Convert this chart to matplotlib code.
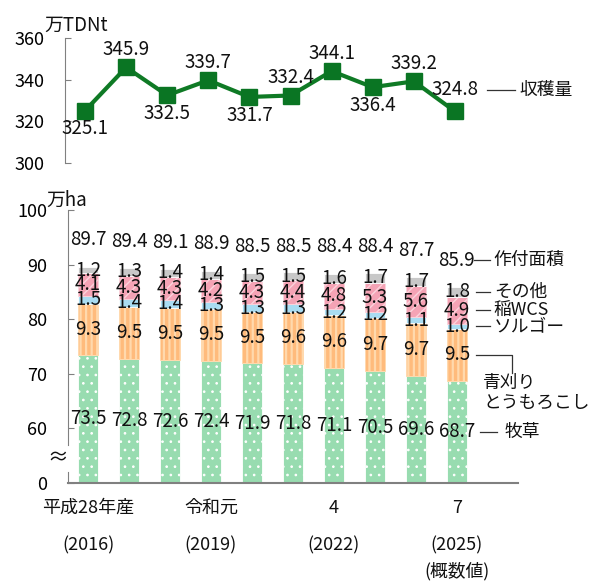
"""
Forage crop harvest (TDN) and planted area, 2016-2025.
"""

import matplotlib.pyplot as plt
import numpy as np

plt.rcParams['font.family'] = ['Noto Sans CJK JP', 'DejaVu Sans']
plt.rcParams['font.size'] = 13.5
plt.rcParams['text.color'] = '#111111'

# data
harvest = [325.1, 345.9, 332.5, 339.7, 331.7, 332.4, 344.1, 336.4, 339.2, 324.8]
pasture = [73.5, 72.8, 72.6, 72.4, 71.9, 71.8, 71.1, 70.5, 69.6, 68.7]
corn = [9.3, 9.5, 9.5, 9.5, 9.5, 9.6, 9.6, 9.7, 9.7, 9.5]
sorghum = [1.5, 1.4, 1.4, 1.3, 1.3, 1.3, 1.2, 1.2, 1.1, 1.0]
rice_wcs = [4.1, 4.3, 4.3, 4.2, 4.3, 4.4, 4.8, 5.3, 5.6, 4.9]
other = [1.2, 1.3, 1.4, 1.4, 1.5, 1.5, 1.6, 1.7, 1.7, 1.8]
total = [89.7, 89.4, 89.1, 88.9, 88.5, 88.5, 88.4, 88.4, 87.7, 85.9]

tick_idx = [0, 3, 6, 9]
tick_line1 = ['平成28年産', '令和元', '4', '7']
tick_line2 = ['(2016)', '(2019)', '(2022)', '(2025)']

W, H = 594, 582
BREAK = 50  # axis value where "0" sits on the broken bar axis
JP = 12.8   # size of the japanese legend words


def fx(px):
    return px / W


def fy(py):
    return 1 - py / H


fig = plt.figure(figsize=(W / 100, H / 100), dpi=100)

# ---------------- top: harvest line ----------------
ax1 = fig.add_axes([fx(65), fy(163), fx(450), 125 / H])
x = np.arange(len(harvest))
ax1.plot(x, harvest, color='#0f7a25', lw=3, marker='s', ms=11.5,
         mfc='#0a7523', mec='#0a7523', zorder=3)
# label offsets in points (+ above / - below)
offs = [-13, 13, -13, 13, -13, 13, 13, -13, 13, 16]
for i, v in enumerate(harvest):
    ax1.annotate(f'{v:.1f}', (i, v), xytext=(0, offs[i]), textcoords='offset points',
                 ha='center', va='center')
ax1.set_xlim(-0.487, -0.487 + 450 / 41.1)
ax1.set_ylim(300, 360)
ax1.set_yticks([300, 320, 340, 360])
ax1.set_xticks([])
for s in ['top', 'right', 'bottom']:
    ax1.spines[s].set_visible(False)
ax1.spines['left'].set_color('#808080')
ax1.tick_params(axis='y', direction='in', length=4, color='#808080', pad=15,
                labelsize=13)
ax1.patch.set_alpha(0)
# legend line for harvest
ly = harvest[-1] + 10.2
ax1.plot([9.78, 10.46], [ly, ly], color='#333333', lw=0.9, clip_on=False)
ax1.text(10.58, ly, '収穫量', ha='left', va='center', fontsize=JP)
fig.text(fx(44), fy(25), '万TDNt', ha='left', va='center')

# ---------------- bottom: stacked bars ----------------
ax2 = fig.add_axes([fx(68), fy(483), fx(450), 273 / H])
xb = np.arange(len(pasture))
bw = 0.48

p_h = np.array(pasture) - BREAK
c = np.array(corn)
s_ = np.array(sorghum)
r = np.array(rice_wcs)
o = np.array(other)
b1 = np.array(pasture)
b2 = b1 + c
b3 = b2 + s_
b4 = b3 + r

with plt.rc_context({'hatch.linewidth': 0.7}):
    ax2.bar(xb, p_h, bw, bottom=BREAK, color='#98dcb0', edgecolor='white',
            lw=0.6, hatch='..')
with plt.rc_context({'hatch.linewidth': 1.6}):
    ax2.bar(xb, c, bw, bottom=b1, color='#ffbb7c', edgecolor='#ffd9ad',
            lw=0.6, hatch='|||')
ax2.bar(xb, s_, bw, bottom=b2, color='#a9dcf2', edgecolor='white', lw=0.6)
with plt.rc_context({'hatch.linewidth': 1.0}):
    ax2.bar(xb, r, bw, bottom=b3, color='#f5a3b5', edgecolor='#fbd3dc',
            lw=0.6, hatch='///')
ax2.bar(xb, o, bw, bottom=b4, color='#c8c8c8', edgecolor='white', lw=0.6)

for i in range(len(xb)):
    ax2.text(i, (BREAK + pasture[i]) / 2, f'{pasture[i]:.1f}', ha='center', va='center')
    ax2.text(i, b1[i] + c[i] / 2, f'{corn[i]:.1f}', ha='center', va='center')
    ax2.text(i, b2[i] + s_[i] / 2, f'{sorghum[i]:.1f}', ha='center', va='center')
    ax2.text(i, b3[i] + r[i] / 2, f'{rice_wcs[i]:.1f}', ha='center', va='center')
    ax2.text(i, b4[i] + o[i] / 2, f'{other[i]:.1f}', ha='center', va='center')
    ax2.text(i, total[i] + 4.9, f'{total[i]:.1f}', ha='center', va='center')

ax2.set_xlim(-0.488, 10.49)
ax2.set_ylim(BREAK, 100)
ax2.set_yticks([BREAK, 60, 70, 80, 90, 100])
ax2.set_yticklabels(['0', '60', '70', '80', '90', '100'])
ax2.set_xticks([])
for s in ['top', 'right']:
    ax2.spines[s].set_visible(False)
ax2.spines['left'].set_color('#808080')
ax2.spines['left'].set_bounds(57, 100)
ax2.spines['bottom'].set_color('#808080')
ax2.spines['bottom'].set_linewidth(1.5)
ax2.plot([-0.488, -0.488], [BREAK, 52], color='#808080', lw=0.8, clip_on=False)
ax2.text(-0.74, 54.6, '≈', ha='center', va='center', fontsize=15)
ax2.tick_params(axis='y', direction='in', length=4, color='#808080', pad=15,
                labelsize=13)
ax2.patch.set_alpha(0)
fig.text(fx(46), fy(200), '万ha', ha='left', va='center')

# x labels
xt = ax2.get_xaxis_transform()
for k, i in enumerate(tick_idx):
    ax2.text(i, -0.092, tick_line1[k], transform=xt, ha='center', va='center', fontsize=13)
    ax2.text(i, -0.227, tick_line2[k], transform=xt, ha='center', va='center', fontsize=13)
ax2.text(tick_idx[-1], -0.322, '(概数値)', transform=xt, ha='center', va='center',
         fontsize=12.8)

# right-side legend lines
last = len(xb) - 1
lc = '#333333'
y_tot = total[last] + 4.9
ax2.plot([last + 0.42, last + 0.8], [y_tot, y_tot], color=lc, lw=0.9, clip_on=False)
ax2.text(last + 0.9, y_tot, '作付面積', ha='left', va='center', fontsize=JP)
for yv, name in [(b4[last] + o[last] / 2, 'その他'),
                 (b3[last] + r[last] / 2, '稲WCS'),
                 (b2[last] + s_[last] / 2, 'ソルゴー')]:
    ax2.plot([last + 0.46, last + 0.8], [yv, yv], color=lc, lw=0.9, clip_on=False)
    ax2.text(last + 0.9, yv, name, ha='left', va='center', fontsize=JP)
yc = b1[last] + c[last] / 2
ax2.plot([last + 0.46, last + 1.34, last + 1.34], [yc, yc, yc - 3.3],
         color=lc, lw=0.9, clip_on=False)
ax2.text(last + 0.64, 68.4, '青刈り', ha='left', va='center', fontsize=JP)
ax2.text(last + 0.64, 64.7, 'とうもろこし', ha='left', va='center', fontsize=JP)
yp = (BREAK + pasture[last]) / 2
ax2.plot([last + 0.56, last + 0.98], [yp, yp], color=lc, lw=0.9, clip_on=False)
ax2.text(last + 1.17, yp, '牧草', ha='left', va='center', fontsize=JP)

fig.savefig('out.png', dpi=100)
